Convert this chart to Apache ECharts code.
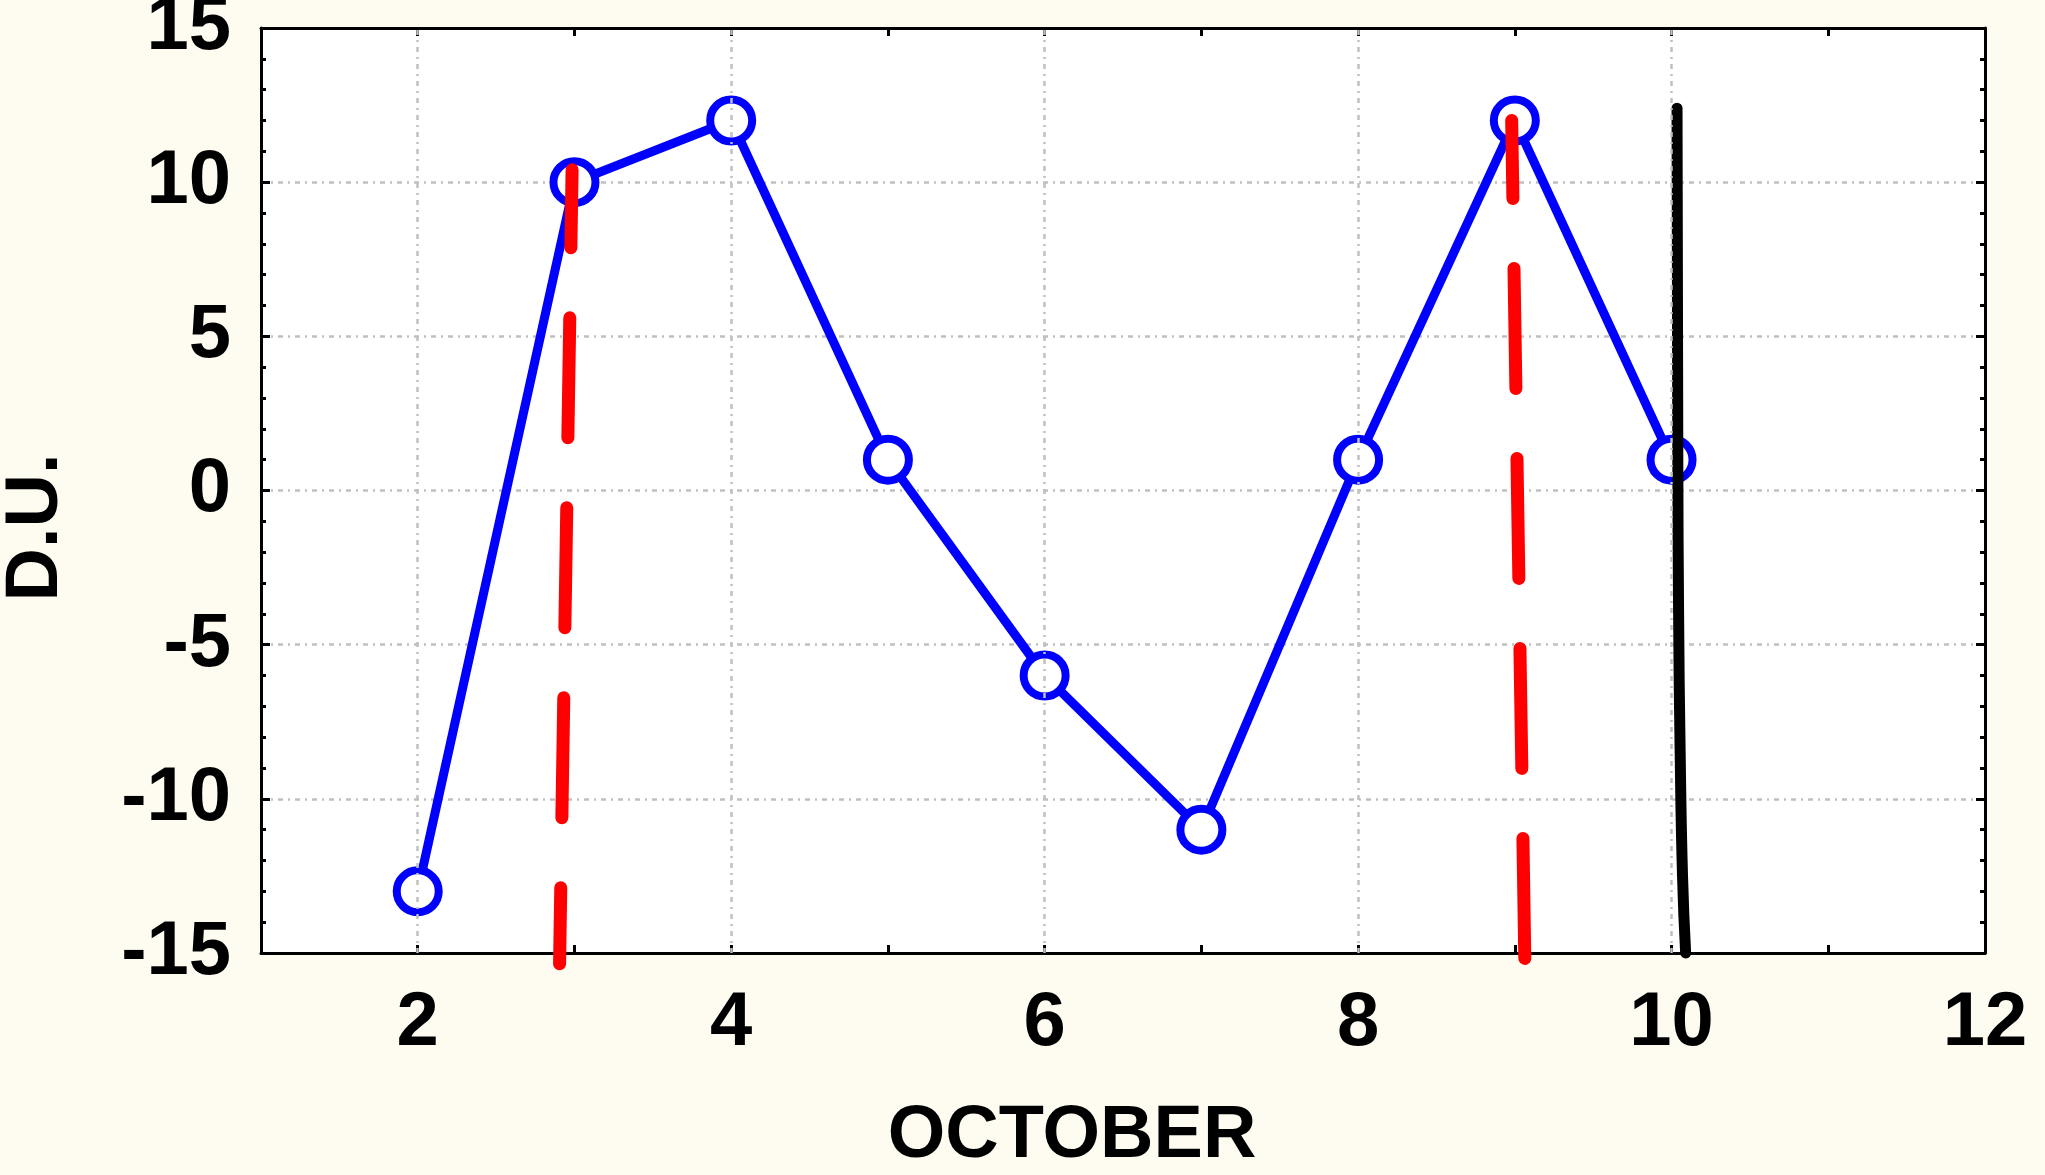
<!DOCTYPE html>
<html>
<head>
<meta charset="utf-8">
<script src="https://cdn.jsdelivr.net/npm/echarts@6/dist/echarts.min.js"></script>
<style>
html,body{margin:0;padding:0;background:#fefcf0;}
#c{width:2045px;height:1175px;}
</style>
</head>
<body>
<div id="c"></div>
<script>
// ---- data ----
const days = [2, 3, 4, 5, 6, 7, 8, 9, 10];
const du = [-13, 10, 12, 1, -6, -11, 1, 12, 1];
const red1X = [2.985, 2.905];
const red1Y = [10.4, -15.35];
const red2X = [8.98, 9.065];
const red2Y = [12.0, -15.6];
const blackX = [10.035, 10.04, 10.045, 10.055, 10.07, 10.09];
const blackY = [12.4, 1, -4, -8.5, -12.5, -15];
const xGridValues = [2, 4, 6, 8, 10];
const xName = 'OCTOBER';
const yName = 'D.U.';

const zip = (a, b) => a.map((v, i) => [v, b[i]]);
const font = 'Liberation Sans, Arial, sans-serif';
const gridDash = [5, 5, 2, 5];
const gridColor = '#c0c0c0';

const chart = echarts.init(document.getElementById('c'), null, {renderer: 'canvas'});
const option = {
  backgroundColor: '#fefcf0',
  animation: false,
  grid: {left: 261, right: 60, top: 28, bottom: 222, show: true, backgroundColor: '#ffffff', borderWidth: 0,
    containLabel: false, outerBoundsMode: 'none'},
  xAxis: [{
    type: 'value', min: 1, max: 12, interval: 1, position: 'bottom',
    name: xName, nameLocation: 'middle', nameGap: 147,
    nameTextStyle: {fontFamily: font, fontWeight: 'bold', fontSize: 74, color: '#000', padding: [0, 102, 0, 0]},
    axisLine: {show: true, onZero: false, lineStyle: {color: '#000', width: 3}},
    axisTick: {show: true, inside: true, length: 8, lineStyle: {color: '#000', width: 3}},
    axisLabel: {show: true, margin: 33, fontFamily: font, fontWeight: 'bold', fontSize: 76, color: '#000',
      showMinLabel: true, showMaxLabel: true,
      formatter: v => (Math.round(v) % 2 === 0 ? String(Math.round(v)) : '')},
    splitLine: {show: false}
  }, {
    type: 'value', min: 1, max: 12, interval: 1, position: 'top',
    axisLine: {show: true, onZero: false, lineStyle: {color: '#000', width: 3}},
    axisTick: {show: true, inside: true, length: 8, lineStyle: {color: '#000', width: 3}},
    axisLabel: {show: false}, splitLine: {show: false}
  }],
  yAxis: [{
    type: 'value', min: -15, max: 15, interval: 5, position: 'left',
    name: yName, nameLocation: 'middle', nameGap: 187, nameRotate: 90,
    nameTextStyle: {fontFamily: font, fontWeight: 'bold', fontSize: 74, color: '#000', padding: [0, 74, 0, 0]},
    axisLine: {show: true, onZero: false, lineStyle: {color: '#000', width: 3}},
    axisTick: {show: true, inside: true, length: 9, lineStyle: {color: '#000', width: 3}},
    minorTick: {show: true, splitNumber: 5, length: 5, lineStyle: {color: '#000', width: 3}},
    axisLabel: {show: true, margin: 30, fontFamily: font, fontWeight: 'bold', fontSize: 76, color: '#000',
      showMinLabel: true, showMaxLabel: true},
    splitLine: {show: true, lineStyle: {color: gridColor, width: 2.5, type: gridDash}}
  }, {
    type: 'value', min: -15, max: 15, interval: 5, position: 'right',
    axisLine: {show: true, onZero: false, lineStyle: {color: '#000', width: 3}},
    axisTick: {show: true, inside: true, length: 9, lineStyle: {color: '#000', width: 3}},
    minorTick: {show: true, splitNumber: 5, length: 5, lineStyle: {color: '#000', width: 3}},
    axisLabel: {show: false}, splitLine: {show: false}
  }],
  series: [{
    type: 'line', data: [], z: 1, silent: true,
    markLine: {
      silent: true, symbol: ['none', 'none'], animation: false,
      label: {show: false},
      lineStyle: {color: gridColor, width: 2.5, type: gridDash},
      data: xGridValues.map(v => ({xAxis: v}))
    }
  }, {
    type: 'line', data: zip(days, du), z: 2,
    symbol: 'circle', symbolSize: 42,
    itemStyle: {color: '#ffffff', borderColor: '#0000ff', borderWidth: 8},
    lineStyle: {color: '#0000ff', width: 9}
  }, {
    type: 'line', data: zip(red1X, red1Y), z: 3, clip: false, symbol: 'none',
    lineStyle: {color: '#ff0000', width: 13, type: [120, 70], dashOffset: 42, cap: 'round'}
  }, {
    type: 'line', data: zip(red2X, red2Y), z: 3, clip: false, symbol: 'none',
    lineStyle: {color: '#ff0000', width: 13, type: [120, 70], dashOffset: 42, cap: 'round'}
  }, {
    type: 'line', data: zip(blackX, blackY), z: 4, symbol: 'none', smooth: true, clip: false,
    lineStyle: {color: '#000000', width: 11, cap: 'round'}
  }]
};
chart.setOption(option);
</script>
</body>
</html>
